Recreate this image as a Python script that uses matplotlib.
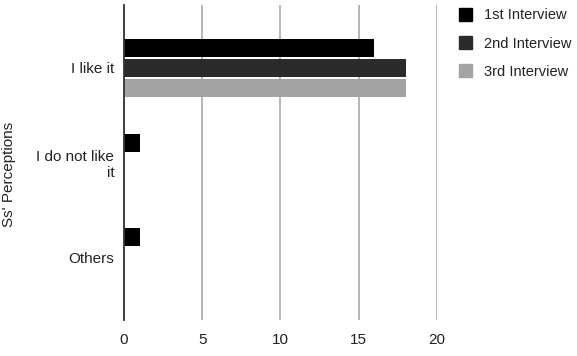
import numpy as np
import matplotlib.pyplot as plt
from matplotlib.patches import Patch

plt.rcParams["font.family"] = ["Liberation Sans", "DejaVu Sans"]

categories = ["I like it", "I do not like\nit", "Others"]
series_names = ["1st Interview", "2nd Interview", "3rd Interview"]
first = [16, 1, 1]
second = [18, 0, 0]
third = [18, 0, 0]
colors = ["#000000", "#2b2b2b", "#a3a3a3"]
x_ticks = [0, 5, 10, 15, 20]

fig = plt.figure(figsize=(5.77, 3.56), dpi=100)
ax = fig.add_axes([0.215, 0.101, 0.542, 0.885])

y = np.arange(len(categories))
step = 0.21
height = 0.19
for i, (vals, col) in enumerate(zip([first, second, third], colors)):
    ax.barh(y + (i - 1) * step, vals, height=height, color=col, zorder=3)

ax.set_xlim(0, 20)
ax.set_ylim(2.66, -0.66)
ax.set_xticks(x_ticks)
ax.set_yticks(y)
ax.set_yticklabels(categories)
ax.tick_params(axis="both", length=0, labelsize=11, colors="#222222")
ax.tick_params(axis="y", pad=7)
ax.tick_params(axis="x", pad=9)
ax.grid(axis="x", color="#b5b5b5", linewidth=1.4, zorder=0)
for s in ["top", "right", "bottom"]:
    ax.spines[s].set_visible(False)
ax.spines["left"].set_color("#333333")
ax.spines["left"].set_linewidth(1.3)
ax.spines["left"].set_zorder(4)

fig.text(0.016, 0.51, "Ss' Perceptions", rotation=90, ha="center", va="center",
         fontsize=11, color="#222222")

handles = [Patch(facecolor=c, edgecolor=c) for c in colors]
fig.legend(handles, series_names, loc="upper left", bbox_to_anchor=(0.772, 1.014),
           frameon=False, fontsize=10.5, labelspacing=0.95, handlelength=0.95,
           handleheight=0.95, handletextpad=0.8, labelcolor="#222222")

plt.savefig("out.png", dpi=100)
plt.close()
